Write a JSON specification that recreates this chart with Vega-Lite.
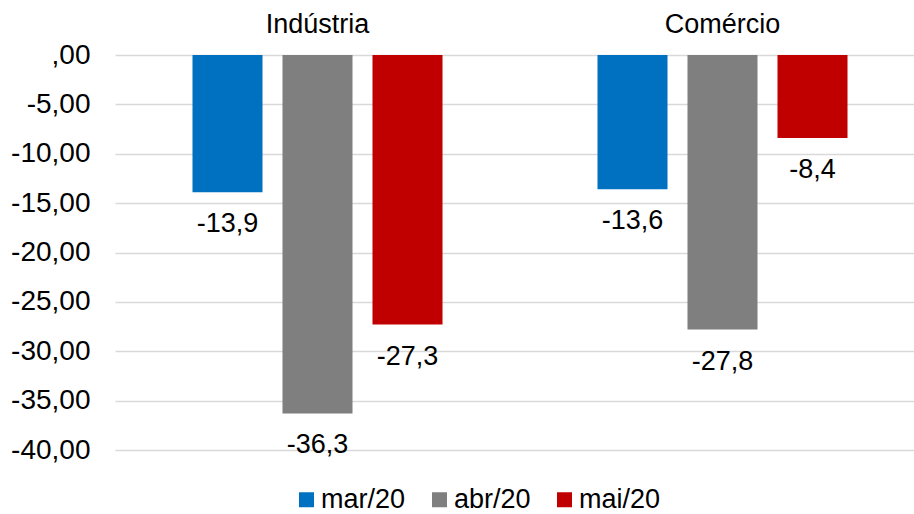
{
  "$schema": "https://vega.github.io/schema/vega-lite/v6.json",
  "width": 799,
  "height": 395,
  "autosize": {"type": "none"},
  "padding": {"left": 115, "top": 55, "right": 0, "bottom": 64},
  "background": "white",
  "config": {"view": {"stroke": null}, "font": "Liberation Sans"},
  "data": {
    "values": [
      {"setor": "Indústria", "mes": "mar/20", "valor": -13.9},
      {"setor": "Indústria", "mes": "abr/20", "valor": -36.3},
      {"setor": "Indústria", "mes": "mai/20", "valor": -27.3},
      {"setor": "Comércio", "mes": "mar/20", "valor": -13.6},
      {"setor": "Comércio", "mes": "abr/20", "valor": -27.8},
      {"setor": "Comércio", "mes": "mai/20", "valor": -8.4}
    ]
  },
  "transform": [
    {"calculate": "(datum.valor < 0 ? '-' : '') + replace(format(abs(datum.valor), '.1f'), '.', ',')", "as": "label"}
  ],
  "encoding": {
    "x": {
      "field": "setor",
      "type": "nominal",
      "sort": ["Indústria", "Comércio"],
      "scale": {"range": [0, 810], "paddingInner": 0, "paddingOuter": 0},
      "axis": {
        "orient": "top",
        "title": null,
        "labelAngle": 0,
        "labelFontSize": 27,
        "labelColor": "#000000",
        "ticks": false,
        "tickSize": 0,
        "domain": false,
        "grid": false,
        "labelBaseline": "alphabetic",
        "labelPadding": 23
      }
    },
    "xOffset": {
      "field": "mes",
      "type": "nominal",
      "sort": ["mar/20", "abr/20", "mai/20"],
      "scale": {"paddingInner": 0.222, "paddingOuter": 0.861}
    },
    "y": {
      "field": "valor",
      "type": "quantitative",
      "scale": {"domain": [-40, 0], "nice": false},
      "axis": {
        "title": null,
        "values": [0, -5, -10, -15, -20, -25, -30, -35, -40],
        "labelExpr": "datum.value == 0 ? ',00' : '-' + abs(datum.value) + ',00'",
        "labelFontSize": 28,
        "labelColor": "#000000",
        "labelPadding": 25,
        "ticks": false,
        "tickSize": 0,
        "domain": false,
        "grid": true,
        "gridColor": "#d9d9d9",
        "gridWidth": 1.5,
        "labelOverlap": false
      }
    }
  },
  "layer": [
    {
      "mark": {"type": "bar"},
      "encoding": {
        "color": {
          "field": "mes",
          "type": "nominal",
          "sort": ["mar/20", "abr/20", "mai/20"],
          "scale": {"domain": ["mar/20", "abr/20", "mai/20"], "range": ["#0070C0", "#7F7F7F", "#C00000"]},
          "legend": {
            "orient": "none",
            "legendX": 178,
            "legendY": 431,
            "direction": "horizontal",
            "title": null,
            "symbolType": "square",
            "symbolSize": 225,
            "symbolStrokeWidth": 0,
            "symbolOpacity": 1,
            "labelFontSize": 27,
            "labelColor": "#000000",
            "labelOffset": 1,
            "columnPadding": 20
          }
        }
      }
    },
    {
      "mark": {"type": "text", "baseline": "alphabetic", "dy": 40, "fontSize": 27, "color": "#000000"},
      "encoding": {"text": {"field": "label"}}
    }
  ]
}
